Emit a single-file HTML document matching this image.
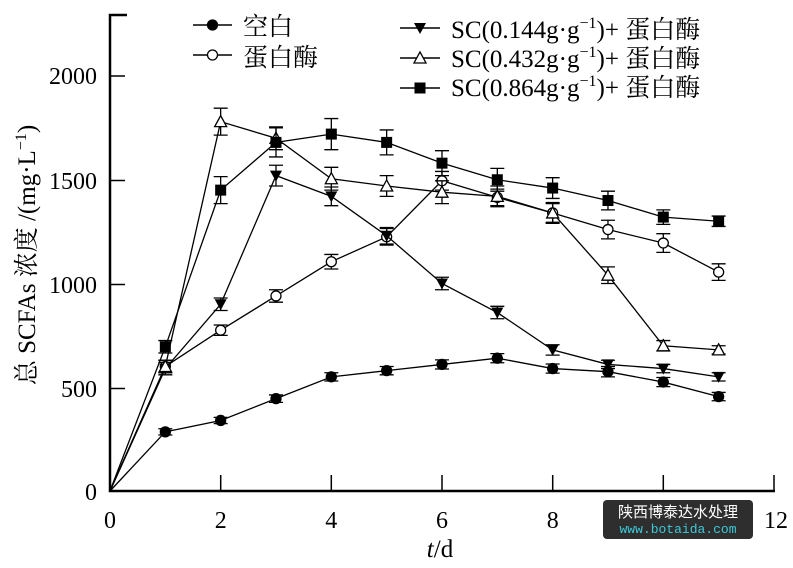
<!DOCTYPE html>
<html><head><meta charset="utf-8"><style>
body{margin:0;background:#fff}
svg text{font-family:"Liberation Serif","Noto Serif CJK SC","Noto Sans CJK SC",serif;fill:#000}
</style></head><body>
<svg id="s" width="793" height="563" xmlns="http://www.w3.org/2000/svg">
<g stroke="#000" stroke-width="2.5" fill="none">
<path d="M127,15 H110 V491 H775"/>
</g>
<g stroke="#000" stroke-width="1.5">
<path d="M110,76h15M110,180.5h15M110,284.5h15M110,388.5h15"/>
<path d="M220.7,491v-16M331.3,491v-16M442,491v-16M552.7,491v-16M663.3,491v-16M774,491v-16"/>
</g>
<g font-size="24" text-anchor="end">
<text x="97" y="84">2000</text><text x="97" y="189">1500</text><text x="97" y="293">1000</text><text x="97" y="397">500</text><text x="97" y="500">0</text>
</g>
<g font-size="24" text-anchor="middle">
<text x="110" y="528">0</text><text x="220.7" y="528">2</text><text x="331.3" y="528">4</text><text x="442" y="528">6</text><text x="552.7" y="528">8</text><text x="663.3" y="528">10</text><text x="776" y="528">12</text>
<text x="440" y="557" font-size="25"><tspan font-style="italic">t</tspan>/d</text>
</g>
<text transform="translate(35,255) rotate(-90)" font-size="25" text-anchor="middle">总 SCFAs 浓度 /(mg·L<tspan dy="-9" font-size="16">−1</tspan><tspan dy="9">)</tspan></text>
<g id="data"></g>
<g font-size="25">
<text x="243" y="35">空白</text>
<text x="243" y="66">蛋白酶</text>
<text x="451" y="38">SC(0.144g·g<tspan dy="-10" font-size="16">−1</tspan><tspan dy="10">)+ 蛋白酶</tspan></text>
<text x="451" y="67">SC(0.432g·g<tspan dy="-10" font-size="16">−1</tspan><tspan dy="10">)+ 蛋白酶</tspan></text>
<text x="451" y="96">SC(0.864g·g<tspan dy="-10" font-size="16">−1</tspan><tspan dy="10">)+ 蛋白酶</tspan></text>
</g>
<rect x="603" y="500" width="150" height="39" rx="4" fill="#2e2e2e"/>
<text x="678" y="517" font-size="15" text-anchor="middle" style="fill:#fff;font-family:'Noto Sans CJK SC',sans-serif">陕西博泰达水处理</text>
<text x="678" y="533" font-size="13" text-anchor="middle" style="fill:#3cc8d8;font-family:'Liberation Mono',monospace">www.botaida.com</text>
</svg>
<script>
var X=function(t){return 110+t*55.33},Y=function(v){return 491-v*0.2075};
var S=[
 ['fc',[0,285,340,445,550,580,610,640,590,575,525,455],[0,15,15,18,20,20,22,22,22,25,22,20]],
 ['oc',[0,600,775,940,1105,1225,1495,1415,1340,1260,1195,1055],[0,30,25,30,35,40,45,40,45,45,45,40]],
 ['dt',[0,590,900,1520,1420,1230,1000,860,680,610,590,550],[0,30,30,50,45,40,30,30,25,20,20,20]],
 ['ot',[0,600,1780,1700,1505,1470,1440,1420,1340,1040,700,680],[0,30,65,55,55,50,55,50,50,40,25,20]],
 ['fs',[0,695,1450,1680,1720,1680,1580,1500,1460,1400,1320,1300],[0,30,65,70,75,60,60,55,50,45,35,25]]
];
function mk(k,x,y,s){
 if(k=='fc'||k=='oc')return '<circle cx="'+x+'" cy="'+y+'" r="5" fill="'+(k=='fc'?'#000':'#fff')+'" stroke="#000" stroke-width="1.3"/>';
 if(k=='fs')return '<rect x="'+(x-5.5)+'" y="'+(y-5.5)+'" width="11" height="11" fill="#000"/>';
 if(k=='dt')return '<path d="M'+(x-6)+','+(y-5)+'h12l-6,11z" fill="#000"/>';
 return '<path d="M'+(x-6)+','+(y+5)+'h12l-6,-11z" fill="#fff" stroke="#000" stroke-width="1.3"/>';
}
var h='';
S.forEach(function(s){
 var p=s[1].map(function(v,i){return X(i)+','+Y(v)}).join(' ');
 h+='<polyline points="'+p+'" fill="none" stroke="#000" stroke-width="1.3"/>';
 s[1].forEach(function(v,i){if(!i)return;var x=X(i),e=s[2][i];
  h+='<path d="M'+x+','+Y(v-e)+'V'+Y(v+e)+'M'+(x-7)+','+Y(v-e)+'h14M'+(x-7)+','+Y(v+e)+'h14" stroke="#000" stroke-width="1.3"/>';});
 s[1].forEach(function(v,i){if(i)h+=mk(s[0],X(i),Y(v));});
});
var L=[['fc',193,232,25],['oc',193,232,55],['dt',400,440,28],['ot',400,440,58],['fs',400,440,88]];
L.forEach(function(l){h+='<path d="M'+l[1]+','+l[3]+'H'+l[2]+'" stroke="#000" stroke-width="1.5"/>'+mk(l[0],(l[1]+l[2])/2,l[3]);});
document.getElementById('data').innerHTML=h;
</script>
</body></html>
